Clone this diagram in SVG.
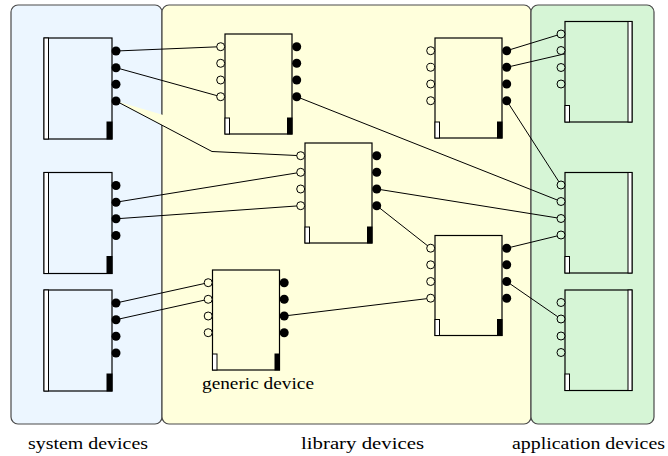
<svg xmlns="http://www.w3.org/2000/svg" xmlns:xlink="http://www.w3.org/1999/xlink" width="668" height="456" viewBox="0 0 668 456">
<style>
.panel{stroke:#4a4a4a;stroke-width:1.2}
.box{stroke:#000;stroke-width:1.2}
.wbar{fill:#ffffff;stroke:#000;stroke-width:1}
.bbar{fill:#000;stroke:#000;stroke-width:1}
.pin{fill:#000}
.pout{stroke:#000;stroke-width:1}
.conn{fill:none;stroke:#000;stroke-width:1}
</style>
<defs>
<g id="sysdev">
<rect class="box" x="0" y="0" width="68" height="101" fill="#ecf6ff"/>
<rect class="wbar" x="0" y="0" width="4.5" height="101" fill="#f8fcff"/>
<rect class="bbar" x="63" y="84" width="5" height="17"/>
<circle class="pin" cx="72" cy="13" r="4.5"/>
<circle class="pin" cx="72" cy="29.7" r="4.5"/>
<circle class="pin" cx="72" cy="46.3" r="4.5"/>
<circle class="pin" cx="72" cy="63" r="4.5"/>
</g>
<g id="libdev">
<rect class="box" x="0" y="0" width="67" height="100" fill="#ffffdc"/>
<rect class="wbar" x="0" y="84" width="4.5" height="16"/>
<rect class="bbar" x="62.5" y="84" width="4.5" height="16"/>
<circle class="pout" cx="-4.3" cy="12.7" r="4" fill="#ffffdc"/>
<circle class="pout" cx="-4.3" cy="29.3" r="4" fill="#ffffdc"/>
<circle class="pout" cx="-4.3" cy="46" r="4" fill="#ffffdc"/>
<circle class="pout" cx="-4.3" cy="62.7" r="4" fill="#ffffdc"/>
<circle class="pin" cx="71.7" cy="12.7" r="4.5"/>
<circle class="pin" cx="71.7" cy="29.3" r="4.5"/>
<circle class="pin" cx="71.7" cy="46" r="4.5"/>
<circle class="pin" cx="71.7" cy="62.7" r="4.5"/>
</g>
<g id="appdev">
<rect class="box" x="0" y="0" width="67" height="100.5" fill="#d6f5d6"/>
<rect class="wbar" x="63" y="0" width="4" height="100.5" fill="#e8fae8"/>
<rect class="wbar" x="0" y="84" width="4.5" height="16.5" fill="#e8fae8"/>
<circle class="pout" cx="-4" cy="12.5" r="4" fill="#d6f5d6"/>
<circle class="pout" cx="-4" cy="29" r="4" fill="#d6f5d6"/>
<circle class="pout" cx="-4" cy="46" r="4" fill="#d6f5d6"/>
<circle class="pout" cx="-4" cy="62.5" r="4" fill="#d6f5d6"/>
</g>
</defs>
<g id="panels">
<rect class="panel" x="11" y="5" width="151" height="419" rx="7" fill="#ecf6ff"/>
<rect class="panel" x="162" y="5" width="369" height="419" rx="7" fill="#ffffdc"/>
<rect class="panel" x="531" y="5" width="123" height="419" rx="7" fill="#d6f5d6"/>
</g>
<g id="connectors">
<path class="conn" d="M116,51 L220.7,46.7"/>
<path class="conn" d="M116,67.7 L220.7,96.7"/>
<path d="M116,101 L212,151.5 L300.7,155.7" fill="#ffffdc" stroke="#000" stroke-width="1"/>
<path class="conn" d="M116,202.2 L300.7,172.3"/>
<path class="conn" d="M116,218.8 L300.7,205.7"/>
<path class="conn" d="M116,303 L208.2,282.7"/>
<path class="conn" d="M116,319.7 L208.2,299.3"/>
<path class="conn" d="M296.7,96.7 L561,201.5"/>
<path class="conn" d="M506.7,50.7 L561,34"/>
<path class="conn" d="M506.7,67.3 L577,51"/>
<path class="conn" d="M506.7,100.7 L561,185"/>
<path class="conn" d="M376.7,189 L561,218.5"/>
<path class="conn" d="M376.7,205.7 L430.7,248.2"/>
<path class="conn" d="M506.7,248.2 L561,235"/>
<path class="conn" d="M506.7,281.5 L561,319"/>
<path class="conn" d="M284,316 L430.7,298.2"/>
</g>
<g id="sys1"><use xlink:href="#sysdev" transform="translate(44,38)"/></g>
<g id="sys2"><use xlink:href="#sysdev" transform="translate(44,172.5)"/></g>
<g id="sys3"><use xlink:href="#sysdev" transform="translate(44,290)"/></g>
<g id="lib1"><use xlink:href="#libdev" transform="translate(225,34)"/></g>
<g id="lib2"><use xlink:href="#libdev" transform="translate(305,143)"/></g>
<g id="lib3"><use xlink:href="#libdev" transform="translate(435,38)"/></g>
<g id="lib4"><use xlink:href="#libdev" transform="translate(435,235.5)"/></g>
<g id="generic"><use xlink:href="#libdev" transform="translate(212.5,270)"/>
<text x="202" y="389" font-family="'Liberation Serif','DejaVu Serif',serif" font-size="17" textLength="112" lengthAdjust="spacingAndGlyphs">generic device</text></g>
<g id="app1"><use xlink:href="#appdev" transform="translate(565,21.5)"/></g>
<g id="app2"><use xlink:href="#appdev" transform="translate(565,172.5)"/></g>
<g id="app3"><use xlink:href="#appdev" transform="translate(565,290)"/></g>
<g id="labels">
<text x="28" y="449" font-family="'Liberation Serif','DejaVu Serif',serif" font-size="17" textLength="120" lengthAdjust="spacingAndGlyphs">system devices</text>
<text x="301" y="449" font-family="'Liberation Serif','DejaVu Serif',serif" font-size="17" textLength="123" lengthAdjust="spacingAndGlyphs">library devices</text>
<text x="512" y="449" font-family="'Liberation Serif','DejaVu Serif',serif" font-size="17" textLength="153" lengthAdjust="spacingAndGlyphs">application devices</text>
</g>
</svg>
